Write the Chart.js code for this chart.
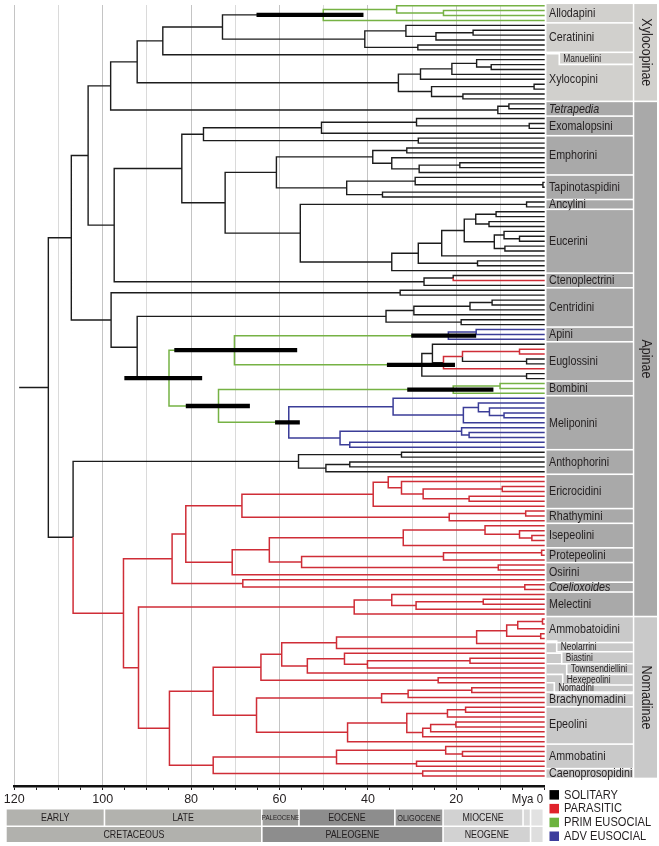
<!DOCTYPE html>
<html><head><meta charset="utf-8">
<script src="https://cdn.jsdelivr.net/npm/chart.js@4.4.1/dist/chart.umd.min.js"></script>
<style>html,body{margin:0;padding:0;background:#fff;overflow:hidden}#wrap{width:659px;height:846px}</style>
</head><body><div id="wrap"><canvas id="c" width="659" height="846"></canvas></div>
<script>
// ================= DATA =================
// Clade = [node age (Mya), stem state, child, child]; leaf = stem state.
// States: k solitary, r parasitic, g primitively eusocial, b advanced eusocial
const allodapini = [50.1,'k',[33.5,'g','g',[22.9,'g','g','g']],'g'];
const ceratinini = [40.7,'k',[31.4,'k','k',[24.6,'k',[16.2,'k','k','k'],'k']],[28.7,'k','k','k']];
const xylocopini = [33.1,'k',[28.1,'k',[21.0,'k',[15.4,'k','k',[12.1,'k','k','k']],'k'],'k'],[25.6,'k',[2.4,'k','k','k'],[18.5,'k','k','k']]];
const tetrapedia = [10.6,'k',[8.1,'k','k','k'],'k'];
const exomalopsini = [50.5,'k',[29.0,'k','k',[3.5,'k','k','k']],'k'];
const exomalopsiniSister = [28.6,'k','k','k'];
const emphorini = [38.9,'k',[31.2,'k','k','k'],[34.6,'k','k',[28.4,'k',[19.2,'k','k','k'],'k']]];
const tapinotaspidini = [44.8,'k',[29.3,'k','k',[0.4,'k','k','k']],[36.7,'k','k','k']];
const ancylini = [4.1,'k','k','k'];
const eucerini = [34.6,'k',[28.6,'k',[23.3,'k',[18.2,'k',[15.6,'k',[11.0,'k','k','k'],[12.6,'k','k','k']],[11.4,'k',[9.2,'k','k',[5.7,'k','k','k']],[9.0,'k','k','k']]],'k'],[15.2,'k','k','k']],'k'];
const ctenoplectrini = [27.3,'k',[20.7,'k','k','r'],'k'];
const centridiniSister = [32.7,'k','k','k'];
const centridini = [35.9,'k',[29.6,'k',[16.9,'k',[11.9,'k','k','k'],'k'],'k'],[18.9,'k','k','k']];
const apini = [21.8,'g',[15.5,'b','b','b'],'b'];
const euglossini = [27.8,'g',[25.4,'k','k',[22.9,'k',[18.6,'r',[5.7,'r','r','r'],[4.1,'k','k','k']],'r']],[4.1,'k','k','k']];
const bombini = [20.7,'g',[10.1,'g','g','g'],'g'];
const meliponini = [57.9,'g',[34.3,'b','b',[18.4,'b',[15.0,'b','b',[12.5,'b','b',[9.2,'b','b','b']]],'b']],[46.3,'b',[18.8,'b','b',[17.1,'b','b','b']],[44.1,'b','b','b']]];
const anthophorini = [55.7,'k',[32.4,'k','k','k'],[49.5,'k',[44.1,'k','k','k'],'k']];
const ericrocidini = [38.8,'r',[35.4,'r','r',[32.4,'r','r',[27.5,'r',[9.6,'r','r','r'],[17.1,'r','r','r']]]],'r'];
const rhathymini = [21.6,'r',[4.3,'r','r','r'],'r'];
const isepeolini = [32.0,'r',[13.5,'r','r',[5.7,'r','r',[2.9,'r','r','r']]],'r'];
const protepeolini = [22.9,'r',[0.7,'r','r','r'],'r'];
const osirini = [10.5,'r','r','r'];
const coelioxoides = [4.5,'r','r','r'];
const melectini = [43.1,'r',[34.6,'r','r',[29.1,'r',[13.9,'r','r','r'],'r']],'r'];
const ammobatoidini = [15.4,'r',[8.6,'r',[6.1,'r',[0.5,'r','r','r'],'r'],[0.9,'r','r','r']],'r'];
const biastiniGroup = [53.7,'r',[45.3,'r','r',[40.1,'r',[16.9,'r','r','r'],'r']],'r'];
const hexepeoliniNomadini = [24.1,'r','r','r'];
const brachynomadini = [36.9,'r',[30.9,'r',[16.5,'r','r','r'],'r'],'r'];
const epeolini = [44.6,'r',[31.2,'r',[22.0,'r',[17.9,'r','r','r'],'r'],[27.6,'r',[25.8,'r',[20.1,'r','r','r'],'r'],'r']],'r'];
const ammobatini = [47.1,'r',[22.4,'r','r',[18.6,'r','r','r']],[29.0,'r','r','r']];
const caenoprosopidini = [27.6,'r','r','r'];

// backbone
const xylocopinae = [92.2,'k',[86.4,'k',[72.9,'k',allodapini,ceratinini],'k'],xylocopini];
const apiniEuglossini = [70.2,'g',apini,euglossini];
const bombiniMeliponini = [73.8,'g',bombini,meliponini];
const corbiculates = [85.0,'k',apiniEuglossini,bombiniMeliponini];
const apinaeCore = [107.1,'k',
  [103.3,'k',[98.2,'k',xylocopinae,tetrapedia],
    [97.4,'k',[82.1,'k',[77.2,'k',exomalopsini,exomalopsiniSister],
      [72.3,'k',[60.7,'k',emphorini,tapinotaspidini],[55.3,'k',ancylini,eucerini]]],ctenoplectrini]],
  [98.1,'k',centridiniSister,[92.2,'k',centridini,corbiculates]]];
const cleptoA = [84.3,'r',[81.2,'r',[68.5,'r',ericrocidini,rhathymini],[70.7,'r',[62.3,'r',isepeolini,[55.0,'r',protepeolini,osirini]],'r']],[68.3,'r','r',coelioxoides]];
const nomadinae = [84.9,'r',[75.0,'r',[64.2,'r',[59.5,'r',[47.1,'r',ammobatoidini,'r'],biastiniGroup],hexepeoliniNomadini],[65.2,'r',brachynomadini,epeolini]],[75.0,'r',ammobatini,caenoprosopidini]];
const anthophorinaeClepto = [106.7,'k',anthophorini,[95.3,'r',cleptoA,[91.9,'r',melectini,nomadinae]]];
const treeRoot = [112.3,'k',apinaeCore,anthophorinaeClepto];
const rootStemAge = 118.9;

// node age intervals (black bars)
const hpdNodes = [allodapini, corbiculates, apiniEuglossini, bombiniMeliponini, meliponini, apini, euglossini, bombini];
const hpdOld   = [65.2, 95.1, 83.8, 81.2, 61.0, 30.2, 35.7, 31.1];
const hpdYoung = [41.0, 77.5, 56.0, 66.7, 55.4, 15.5, 20.3, 11.6];

// tribe label boxes (leaf rows)
const tribeNames = ['Allodapini','Ceratinini','Xylocopini','Tetrapedia','Exomalopsini','Emphorini','Tapinotaspidini','Ancylini','Eucerini','Ctenoplectrini','Centridini','Apini','Euglossini','Bombini','Meliponini','Anthophorini','Ericrocidini','Rhathymini','Isepeolini','Protepeolini','Osirini','Coelioxoides','Melectini','Ammobatoidini','','Brachynomadini','Epeolini','Ammobatini','Caenoprosopidini'];
const tribeFirst = [0,4,11,20,23,27,35,40,42,55,58,66,69,77,80,91,96,103,106,111,114,118,120,125,130.3,140.4,143,151,156];
const tribeLast  = [3,9,19,22,26,34,39,41,54,57,65,68,76,79,90,95,102,105,110,113,117,119,124,129.3,139.4,142.4,150,155,157];
const italicTribes = ['Tetrapedia','Coelioxoides'];
const smallTribes = ['Manueliini','Neolarrini','Biastini','Townsendiellini','Hexepeolini','Nomadini'];
const smallTribeRow = [10.93,130.66,133.1,135.26,137.44,139.14];
const subfamilies = ['Xylocopinae','Apinae','Nomadinae'];
const subFirst = [0,20,125];
const subLast = [19,124,157];

// geological time scale
const epochNames = ['EARLY','LATE','PALEOCENE','EOCENE','OLIGOCENE','MIOCENE','',''];
const epochStart = [121.9,99.6,64.0,55.6,33.9,23.0,4.9,3.2];
const epochEnd   = [99.6,64.0,55.6,33.9,23.0,4.9,3.2,0.3];
const periodNames = ['CRETACEOUS','PALEOGENE','NEOGENE',''];
const periodStart = [121.9,64.0,23.0,3.2];
const periodEnd   = [64.0,23.0,3.2,0.3];

const legendLabels = ['SOLITARY','PARASITIC','PRIM EUSOCIAL','ADV EUSOCIAL'];
const legendStates = ['k','r','g','b'];

// ================= STYLE / LAYOUT =================
const lineColour = {k:'#1c1c1c', r:'#cf2d37', g:'#76b244', b:'#3b3d98'};
const legendColour = {k:'#000000', r:'#e0222b', g:'#6db33f', b:'#3d3d9c'};
const subColour = ['#d1d0cd','#a9a9a9','#c9c9c9'];
const epochColour = ['#b2b2ae','#b2b2ae','#9e9e9c','#8d8d8d','#979797','#d2d2d2','#d9d9d9','#e2e2e2'];
const periodColour = ['#b1b1ad','#8d8d8d','#d2d2d2','#dedede'];
const smallIndent = [563.3,560.7,565.7,570.7,566.7,558.3];
const FONT = '"Liberation Sans", Arial, sans-serif';

// ================= BUILD =================
let leafCount = 0;
const nodeRow = new Map();
const segs = {k:[], r:[], g:[], b:[]};
function seg(c, pts){ for (const p of pts) segs[c].push({x:p[0], y:p[1]}); segs[c].push({x:NaN, y:NaN}); }
function build(node){
  if (typeof node === 'string') return {y: leafCount++, age: 0, c: node};
  const kids = node.slice(2).map(build);
  const y = (kids[0].y + kids[kids.length-1].y) / 2;
  for (const k of kids) seg(k.c, [[node[0], y],[node[0], k.y],[k.age, k.y]]);
  nodeRow.set(node, y);
  return {y, age: node[0], c: node[1]};
}
const rootInfo = build(treeRoot);
seg('k', [[rootStemAge, rootInfo.y],[treeRoot[0], rootInfo.y]]);

const hpdPts = [];
hpdNodes.forEach((n,i) => { const y = nodeRow.get(n); hpdPts.push({x:hpdOld[i], y}, {x:hpdYoung[i], y}, {x:NaN, y:NaN}); });

function txt(ctx, s, x, y, size, o){
  o = o || {};
  ctx.save();
  ctx.font = (o.italic ? 'italic ' : '') + size + 'px ' + FONT;
  ctx.fillStyle = o.color || '#231f20';
  ctx.textBaseline = 'middle';
  ctx.textAlign = o.align || 'left';
  ctx.translate(x, y);
  if (o.rotate) ctx.rotate(o.rotate);
  ctx.scale(o.sx || 0.84, 1);
  ctx.fillText(s, 0, 0);
  ctx.restore();
}

const decor = {
  id: 'decor',
  afterDraw(chart){
    const ctx = chart.ctx, xs = chart.scales.x, ys = chart.scales.y;
    const Y = r => ys.getPixelForValue(r), X = a => xs.getPixelForValue(a);
    const tx0 = 546.5, tx1 = 632.8, sx0 = 634.3, sx1 = 657;
    // subfamily boxes
    subfamilies.forEach((s,i) => {
      const t = Y(subFirst[i]-0.5), b = Y(subLast[i]+0.5);
      ctx.fillStyle = subColour[i];
      ctx.fillRect(sx0, t+0.8, sx1-sx0, b-t-1.6);
      txt(ctx, s, (sx0+sx1)/2 + 0.5, (t+b)/2, 14.5, {rotate: Math.PI/2, align:'center', sx:0.86});
    });
    // tribe boxes
    tribeNames.forEach((n,i) => {
      const top = i === 0 ? tribeFirst[0]-0.5 : tribeLast[i-1]+0.5;
      const bot = tribeLast[i]+0.5;
      const t = Y(top), b = Y(bot);
      const si = subFirst.findIndex((f,j) => tribeFirst[i] >= f && tribeFirst[i] <= subLast[j] + 0.6);
      ctx.fillStyle = subColour[si];
      ctx.fillRect(tx0, t+0.8, tx1-tx0, b-t-1.6);
      if (n) txt(ctx, n, 549, Y((tribeFirst[i]+tribeLast[i])/2) + 0.3, 12.6, {italic: italicTribes.includes(n), sx:0.85});
    });
    // small tribes with step outlines
    ctx.save();
    ctx.strokeStyle = '#ffffff'; ctx.lineWidth = 1.6;
    smallTribes.forEach((n,i) => {
      const yl = Y(smallTribeRow[i]), xi = smallIndent[i] - 4;
      ctx.beginPath();
      ctx.moveTo(tx0, yl-5.6); ctx.lineTo(xi, yl-5.6); ctx.lineTo(xi, yl+5.0); ctx.lineTo(tx1, yl+5.0);
      ctx.stroke();
    });
    ctx.restore();
    smallTribes.forEach((n,i) => txt(ctx, n, smallIndent[i], Y(smallTribeRow[i]), 10, {}));
    // geological time scale
    const r1t = 809.5, r1b = 825.5, r2t = 827, r2b = 842;
    epochNames.forEach((n,i) => {
      const a = X(epochStart[i]) + 0.8, b = X(epochEnd[i]) - 0.8;
      ctx.fillStyle = epochColour[i]; ctx.fillRect(a, r1t, b-a, r1b-r1t);
      const sz = n === 'PALEOCENE' ? 8 : (n === 'OLIGOCENE' ? 9.5 : 11.5);
      if (n) txt(ctx, n, (a+b)/2, (r1t+r1b)/2 + 0.5, sz, {align:'center', sx:0.77});
    });
    periodNames.forEach((n,i) => {
      const a = X(periodStart[i]) + 0.8, b = X(periodEnd[i]) - 0.8;
      ctx.fillStyle = periodColour[i]; ctx.fillRect(a, r2t, b-a, r2b-r2t);
      if (n) txt(ctx, n, (a+b)/2, (r2t+r2b)/2 + 0.5, 11.5, {align:'center', sx:0.77});
    });
    // axis unit
    txt(ctx, 'Mya 0', 543, 799.5, 13, {align:'right', sx:0.88});
    // legend
    legendLabels.forEach((l,i) => {
      const cy = 794.8 + i*13.8;
      ctx.fillStyle = legendColour[legendStates[i]];
      ctx.fillRect(549.5, cy-4.7, 9.5, 9.5);
      txt(ctx, l, 564, cy + 0.3, 12.8, {sx:0.87});
    });
  }
};

const datasets = [{label:'age intervals', data: hpdPts, showLine:true, borderColor:'#000', borderWidth:4.3,
  pointRadius:0, borderCapStyle:'butt', spanGaps:false, clip:false}];
['b','g','r','k'].forEach(c => datasets.push({label:c, data: segs[c], showLine:true, borderColor: lineColour[c],
  borderWidth: c === 'k' ? 1.4 : 1.5, pointRadius:0, borderJoinStyle:'miter', borderCapStyle:'butt', spanGaps:false, clip:false}));

new Chart(document.getElementById('c'), {
  type: 'scatter',
  data: { datasets },
  options: {
    responsive:false, animation:false, devicePixelRatio:1,
    layout: { padding: {left:14.3, right:114.3, top:5, bottom:38} },
    plugins: { legend:{display:false}, tooltip:{enabled:false} },
    events: [],
    scales: {
      x: {
        type:'linear', min:0, max:120, reverse:true, position:'bottom',
        afterFit: s => { s.height = 22; },
        ticks: { stepSize:5, autoSkip:false, maxRotation:0, padding:2, color:'#231f20',
          font:{family:FONT, size:12.5},
          callback: v => (v % 20 === 0 && v !== 0) ? String(v) : '' },
        grid: { drawOnChartArea:true, drawTicks:true, tickLength:4, tickWidth:1, tickColor:'#231f20', lineWidth:1,
          color: c => { const v = c.tick ? c.tick.value : 1; if (v === 0 || v % 10 !== 0) return 'rgba(0,0,0,0)'; return v % 20 === 0 ? '#c4c4c4' : '#dadada'; } },
        border: { display:true, color:'#111', width:2.5 }
      },
      y: { type:'linear', display:false, reverse:true, min:-0.143, max:159.04 }
    }
  },
  plugins: [decor]
});
</script></body></html>
